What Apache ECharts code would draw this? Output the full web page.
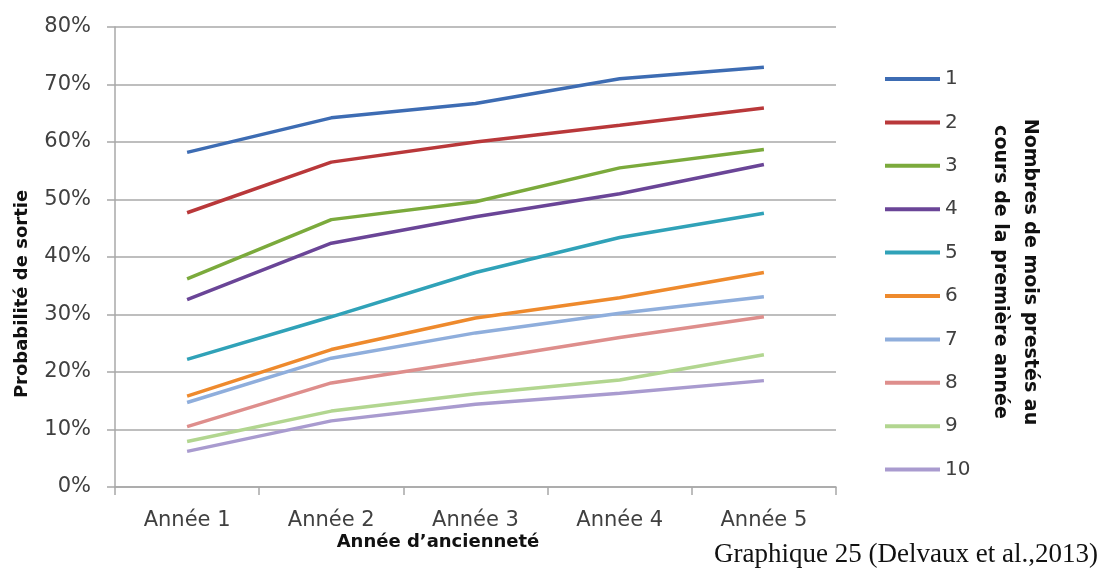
<!DOCTYPE html>
<html>
<head>
<meta charset="utf-8">
<script src="https://cdn.jsdelivr.net/npm/echarts@6/dist/echarts.min.js"></script>
<style>
html,body{margin:0;padding:0;background:#fff;}
#c{width:1109px;height:572px;}
</style>
</head>
<body>
<div id="c"></div>
<script>
const categories = ['Année 1', 'Année 2', 'Année 3', 'Année 4', 'Année 5'];
const seriesNames = ['1', '2', '3', '4', '5', '6', '7', '8', '9', '10'];
const s1 = [58.2, 64.2, 66.7, 71.0, 73.0];
const s2 = [47.7, 56.5, 60.0, 62.9, 65.9];
const s3 = [36.2, 46.5, 49.6, 55.5, 58.7];
const s4 = [32.6, 42.4, 47.0, 51.0, 56.1];
const s5 = [22.2, 29.6, 37.3, 43.4, 47.6];
const s6 = [15.8, 23.9, 29.4, 32.9, 37.3];
const s7 = [14.7, 22.4, 26.8, 30.2, 33.1];
const s8 = [10.5, 18.1, 22.0, 26.0, 29.6];
const s9 = [7.9, 13.2, 16.2, 18.6, 23.0];
const s10 = [6.2, 11.5, 14.4, 16.3, 18.5];
const yTicks = [0, 10, 20, 30, 40, 50, 60, 70, 80];
const allSeries = [s1, s2, s3, s4, s5, s6, s7, s8, s9, s10];
const colors = ['#3D6CB3', '#B9383A', '#7BAA3C', '#6A4597', '#30A2B8', '#EE8A2D', '#8FAEDC', '#DE8E8C', '#B2D690', '#A99BCF'];

const chart = echarts.init(document.getElementById('c'));
const labelFont = 'DejaVu Sans';
chart.setOption({
  animation: false,
  color: colors,
  grid: { left: 115, right: 273, top: 27, bottom: 85, containLabel: false },
  xAxis: {
    type: 'category',
    data: categories,
    boundaryGap: true,
    axisLine: { lineStyle: { color: '#A8A8A8', width: 1.5 } },
    axisTick: { show: true, length: 8, lineStyle: { color: '#A8A8A8', width: 1.5 } },
    axisLabel: { color: '#404040', fontFamily: labelFont, fontSize: 21, margin: 23 },
    splitLine: { show: false }
  },
  yAxis: {
    type: 'value',
    min: yTicks[0],
    max: yTicks[yTicks.length - 1],
    interval: 10,
    axisLine: { show: true, lineStyle: { color: '#A8A8A8', width: 1.5 } },
    axisTick: { show: true, length: 8, lineStyle: { color: '#A8A8A8', width: 1.5 } },
    axisLabel: { color: '#404040', fontFamily: labelFont, fontSize: 21, margin: 24, formatter: v => v + '%' },
    splitLine: { show: true, lineStyle: { color: '#A8A8A8', width: 1.5 } }
  },
  legend: {
    orient: 'vertical',
    left: 880,
    top: 64,
    itemWidth: 55,
    itemHeight: 4,
    itemGap: 23.4,
    icon: 'rect',
    textStyle: { color: '#404040', fontFamily: labelFont, fontSize: 20, lineHeight: 20 },
    data: seriesNames
  },
  graphic: [
    {
      type: 'text', x: 22, y: 294, rotation: Math.PI / 2,
      style: { text: 'Probabilité de sortie', x: 0, y: 0, textAlign: 'center', textVerticalAlign: 'middle', align: 'center', verticalAlign: 'middle', font: 'bold 18px "DejaVu Sans"', fill: '#111' }
    },
    {
      type: 'text', x: 438, y: 542,
      style: { text: 'Année d\u2019ancienneté', x: 0, y: 0, textAlign: 'center', textVerticalAlign: 'middle', align: 'center', verticalAlign: 'middle', font: 'bold 18px "DejaVu Sans"', fill: '#111' }
    },
    {
      type: 'text', x: 1015, y: 272, rotation: -Math.PI / 2,
      style: { text: 'Nombres de mois prestés au\ncours de la première année', x: 0, y: 0, textAlign: 'center', textVerticalAlign: 'middle', align: 'center', verticalAlign: 'middle', font: 'bold 19px "DejaVu Sans"', lineHeight: 30, fill: '#111' }
    },
    {
      type: 'text', x: 1098, y: 555,
      style: { text: 'Graphique 25 (Delvaux et al.,2013)', x: 0, y: 0, textAlign: 'right', textVerticalAlign: 'middle', align: 'right', verticalAlign: 'middle', font: '27px "Liberation Serif"', fill: '#111' }
    }
  ],
  series: allSeries.map((d, i) => ({
    name: seriesNames[i],
    type: 'line',
    data: d,
    symbol: 'none',
    lineStyle: { width: 3.5, color: colors[i] },
    itemStyle: { color: colors[i] }
  }))
});
</script>
</body>
</html>
